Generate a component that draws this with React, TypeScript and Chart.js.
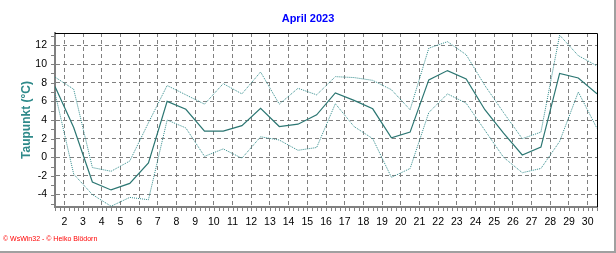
import React, { useEffect, useRef } from "react";
import { Chart, registerables } from "chart.js";

Chart.register(...registerables);

const chartTitle = "April 2023";
const axisTitle = "Taupunkt (°C)";
const footerText = "© WsWin32 - © Heiko Blödorn";

const days = [1, 2, 3, 4, 5, 6, 7, 8, 9, 10, 11, 12, 13, 14, 15, 16, 17, 18, 19, 20, 21, 22, 23, 24, 25, 26, 27, 28, 29, 30];
const xTickLabels = [2, 3, 4, 5, 6, 7, 8, 9, 10, 11, 12, 13, 14, 15, 16, 17, 18, 19, 20, 21, 22, 23, 24, 25, 26, 27, 28, 29, 30];
const yTickLabels = [-4, -2, 0, 2, 4, 6, 8, 10, 12];
const dewMean = [7.6, 3.2, -2.65, -3.5, -2.8, -0.6, 6.0, 5.15, 2.8, 2.8, 3.4, 5.25, 3.3, 3.55, 4.55, 6.9, 6.1, 5.2, 2.1, 2.7, 8.3, 9.3, 8.4, 5.1, 2.6, 0.25, 1.1, 9.0, 8.5, 6.8];
const dewMax = [8.6, 7.3, -1.1, -1.5, -0.4, 3.7, 7.7, 6.7, 5.7, 7.9, 6.8, 9.15, 5.7, 7.4, 6.7, 8.65, 8.55, 8.25, 7.25, 5.1, 11.7, 12.4, 11.0, 7.7, 4.8, 2.0, 2.7, 13.1, 10.9, 9.8];
const dewMin = [6.9, -1.8, -4.0, -5.25, -4.3, -4.55, 4.0, 3.15, 0.1, 0.9, -0.1, 2.2, 1.85, 0.75, 1.05, 5.75, 3.3, 2.0, -2.15, -1.2, 4.8, 6.8, 5.8, 2.9, 0.0, -1.65, -1.2, 1.7, 7.0, 3.1];

const xMin = 1.5;
const xMax = 30.5;
const yMin = -5.33;
const yMax = 13.33;

const FONT = "'Liberation Sans', Arial, sans-serif";
const GRID = "#808080";
const MAIN = "#2b7672";
const DOT = "#2f8a8a";

const toPoints = (vals: number[]) => vals.map((v, i) => ({ x: days[i] + 0.5, y: v }));

const decorPlugin = {
  id: "decor",
  afterDraw(chart: any) {
    const { ctx, chartArea: a, scales, width, height } = chart;
    ctx.save();
    ctx.strokeStyle = "#000";
    ctx.lineWidth = 1;
    ctx.beginPath();
    ctx.moveTo(a.left, a.top + 0.5);
    ctx.lineTo(a.right + 0.5, a.top + 0.5);
    ctx.lineTo(a.right + 0.5, a.bottom);
    ctx.stroke();
    ctx.strokeStyle = GRID;
    const xs = scales.x;
    ctx.beginPath();
    for (let v = Math.ceil(xs.min * 4) / 4; v <= xs.max + 1e-9; v += 0.25) {
      const px = Math.round(xs.getPixelForValue(v)) + 0.5;
      ctx.moveTo(px, a.bottom + 1);
      ctx.lineTo(px, a.bottom + 4);
    }
    const ys = scales.y;
    for (let v = Math.ceil(ys.min); v <= ys.max; v += 1) {
      const py = Math.round(ys.getPixelForValue(v)) + 0.5;
      ctx.moveTo(a.left - 4, py);
      ctx.lineTo(a.left - 1, py);
    }
    ctx.stroke();
    ctx.fillStyle = "#0000ff";
    ctx.font = `bold 11px ${FONT}`;
    ctx.textAlign = "center";
    ctx.textBaseline = "middle";
    ctx.fillText(chartTitle, width / 2, 19);
    ctx.fillStyle = "#ff0000";
    ctx.font = `7px ${FONT}`;
    ctx.textAlign = "left";
    ctx.fillText(footerText, 3, 239);
    ctx.fillStyle = "#a0a0a0";
    ctx.fillRect(width - 2, 0, 2, height);
    ctx.fillRect(0, height - 2, width, 2);
    ctx.restore();
  },
};

export default function App() {
  const ref = useRef<HTMLCanvasElement | null>(null);
  useEffect(() => {
    if (!ref.current) return;
    const chart = new Chart(ref.current, {
      type: "line",
      data: {
        datasets: [
          { data: toPoints(dewMax), borderColor: DOT, borderWidth: 1, borderDash: [1, 1], pointRadius: 0, tension: 0, fill: false },
          { data: toPoints(dewMin), borderColor: DOT, borderWidth: 1, borderDash: [1, 1], pointRadius: 0, tension: 0, fill: false },
          { data: toPoints(dewMean), borderColor: MAIN, borderWidth: 1.2, pointRadius: 0, tension: 0, fill: false },
        ],
      },
      options: {
        animation: false,
        responsive: false,
        devicePixelRatio: 1,
        layout: { padding: { left: 0, top: 33, right: 19, bottom: 16 } },
        plugins: { legend: { display: false }, tooltip: { enabled: false }, title: { display: false } },
        scales: {
          x: {
            type: "linear",
            min: xMin,
            max: xMax,
            afterFit: (s: any) => { s.height = 30; },
            afterBuildTicks: (s: any) => { s.ticks = xTickLabels.map((v) => ({ value: v })); },
            ticks: { color: "#000", font: { family: FONT, size: 10.5 }, padding: 9, maxRotation: 0, autoSkip: false },
            grid: { color: GRID, lineWidth: 1, drawTicks: false },
            border: { display: true, color: GRID, width: 2, dash: [4, 3] },
          },
          y: {
            type: "linear",
            min: yMin,
            max: yMax,
            afterFit: (s: any) => { s.width = 55; },
            afterBuildTicks: (s: any) => { s.ticks = yTickLabels.map((v) => ({ value: v })); },
            ticks: { color: "#000", font: { family: FONT, size: 10.5 }, padding: 8 },
            grid: { color: GRID, lineWidth: 1, drawTicks: false },
            border: { display: true, color: GRID, width: 2, dash: [4, 3] },
            title: { display: true, text: axisTitle, color: "#2f8a8a", font: { family: FONT, size: 12, weight: "bold" }, padding: { top: 19.5, bottom: 0 } },
          },
        },
      },
      plugins: [decorPlugin],
    });
    return () => chart.destroy();
  }, []);
  return (
    <div style={{ position: "absolute", left: 0, top: 0, width: 616, height: 253, background: "#fff" }}>
      <canvas ref={ref} width={616} height={253} style={{ width: 616, height: 253, display: "block" }} />
    </div>
  );
}
